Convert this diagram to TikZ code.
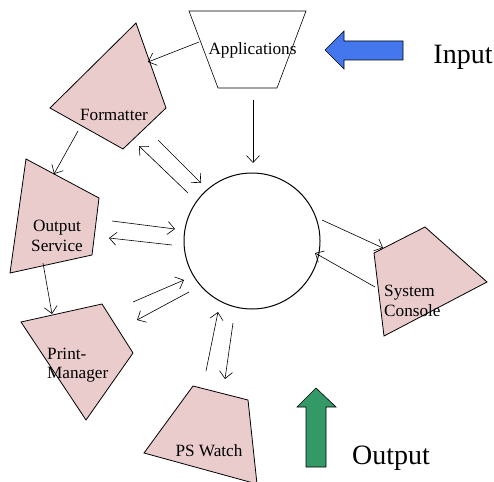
\documentclass[tikz,border=0pt]{standalone}
\usepackage{fontspec}
\setmainfont{Liberation Serif}
\usetikzlibrary{arrows.meta}
\definecolor{pinkfill}{RGB}{234,204,205}
\definecolor{bluefill}{RGB}{68,119,238}
\definecolor{greenfill}{RGB}{51,153,102}
\tikzset{
  shapebox/.style={draw=black, fill=pinkfill, line width=0.8pt, line join=miter},
  conn/.style={draw=black, line width=0.6pt, -{Straight Barb[length=7pt,width=13pt,line width=0.6pt]}},
  lbl/.style={font=\fontsize{17.2}{19.5}\selectfont, inner sep=0pt},
  biglbl/.style={font=\fontsize{28}{32}\selectfont, inner sep=0pt},
}
\begin{document}
\begin{tikzpicture}[x=1pt,y=-1pt]
\useasboundingbox (0,0) rectangle (494,481);
\begin{scope}
\clip (0,0) rectangle (494,481);
% Applications (white trapezoid)
\draw[line width=0.6pt] (189,11) -- (306,11) -- (277,88) -- (218,88) -- cycle;
% Formatter
\path[shapebox] (136,23) -- (166,108) -- (123,149) -- (50,108) -- cycle;
% Output Service
\path[shapebox] (26,159) -- (99,198) -- (92,255) -- (10,273) -- cycle;
% Print-Manager
\path[shapebox] (21,322) -- (102,304) -- (133,353) -- (86,420) -- cycle;
% PS Watch
\path[shapebox] (193,386) -- (248,400) -- (257,484) -- (144,453) -- cycle;
% System Console
\path[shapebox] (374,253) -- (425,227) -- (487,282) -- (384,336) -- cycle;
% central circle
\draw[line width=1pt] (252,241) circle[radius=68];
% big arrows
\draw[fill=bluefill, line width=0.6pt] (325,50) -- (344,31) -- (344,41) -- (403,41) -- (403,60) -- (344,60) -- (344,69) -- cycle;
\draw[fill=greenfill, line width=0.6pt] (316,388) -- (336,407) -- (326,407) -- (326,467) -- (306,467) -- (306,407) -- (297,407) -- cycle;
\end{scope}

% labels
\node[lbl] (app) at (252.5,50) {Applications};
\node[lbl] (fmt) at (114,115) {Formatter};
\node[lbl, align=center] (outs) at (57,236) {Output\\Service};
\node[lbl, align=left, anchor=west] (prm) at (47,365) {Print-\\Manager};
\node[lbl] (psw) at (209,451) {PS Watch};
\node[lbl, align=left, anchor=west] (sysc) at (384,301) {System\\Console};
\node[biglbl] (inp) at (463,57) {Input};
\node[biglbl] (outp) at (391,458) {Output};

% connector endpoints
\coordinate (a1) at (199,42);  \coordinate (a2) at (148,62);
\coordinate (b1) at (253,100); \coordinate (b2) at (253,163);
\coordinate (c1) at (78,131);  \coordinate (c2) at (54,174);
\coordinate (d1) at (158,140); \coordinate (d2) at (201,183);
\coordinate (e1) at (188,193); \coordinate (e2) at (139,146);
\coordinate (f1) at (112,221); \coordinate (f2) at (175,229);
\coordinate (g1) at (172,245); \coordinate (g2) at (109,238);
\coordinate (h1) at (43,263);  \coordinate (h2) at (52,314);
\coordinate (i1) at (133,302); \coordinate (i2) at (184,280);
\coordinate (j1) at (189,292); \coordinate (j2) at (137,320);
\coordinate (k1) at (206,371); \coordinate (k2) at (218,312);
\coordinate (l1) at (233,323); \coordinate (l2) at (225,379);
\coordinate (m1) at (322,220); \coordinate (m2) at (383,248);
\coordinate (n1) at (375,287); \coordinate (n2) at (315,253);

\foreach \s/\t in {a1/a2,b1/b2,c1/c2,d1/d2,e1/e2,f1/f2,g1/g2,h1/h2,i1/i2,j1/j2,k1/k2,l1/l2,m1/m2,n1/n2}
  \draw[conn] (\s) -- (\t);
\end{tikzpicture}
\end{document}
